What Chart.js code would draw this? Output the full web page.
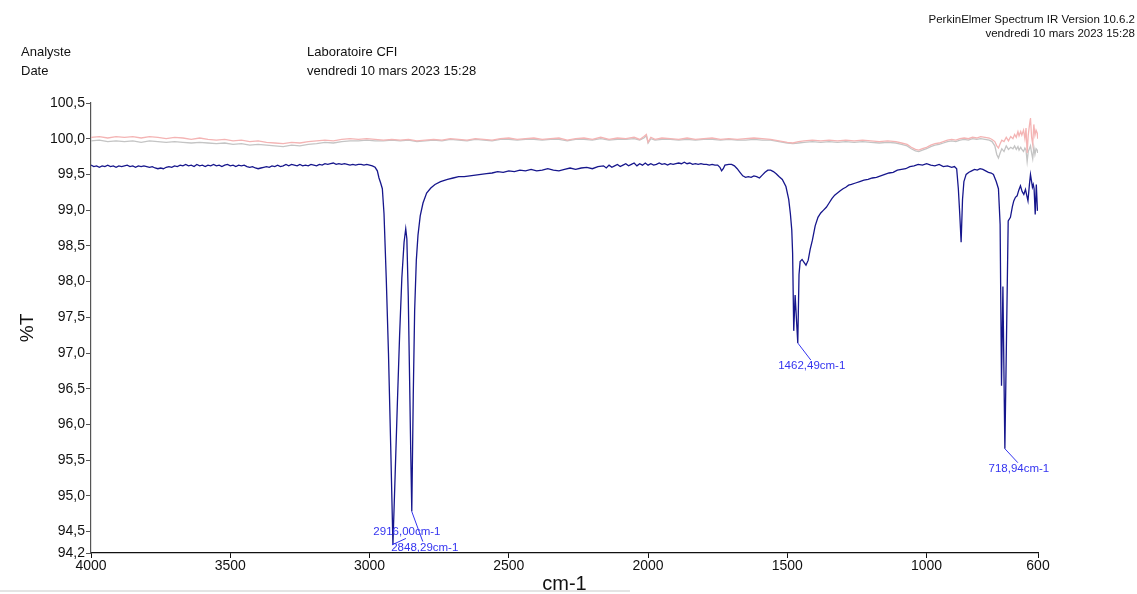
<!DOCTYPE html>
<html lang="fr">
<head>
<meta charset="utf-8">
<title>Spectre IR</title>
<script src="https://cdn.jsdelivr.net/npm/chart.js@4.4.1/dist/chart.umd.min.js"></script>
<style>
    body { margin: 0; background: #fff; font-family: Arial, "Liberation Sans", sans-serif; }
    #page { position: relative; width: 1137px; height: 594px; overflow: hidden; }
    #irChart { position: absolute; left: 0; top: 0; }
    .hdr { position: absolute; font-size: 13px; line-height: 1; color: #111; white-space: nowrap; }
    .soft { position: absolute; right: 2px; font-size: 11.5px; line-height: 1; color: #111; text-align: right; white-space: nowrap; }
    #footline { position: absolute; left: 0; top: 590px; width: 630px; height: 2px; background: #e4e4e4; }
</style>
</head>
<body>
<div id="page">
    <div id="footline"></div>
    <canvas id="irChart" width="1137" height="594"></canvas>
    <div class="soft" style="top:14px">PerkinElmer Spectrum IR Version 10.6.2</div>
    <div class="soft" style="top:28px">vendredi 10 mars 2023 15:28</div>
    <div class="hdr" style="left:21px; top:45px">Analyste</div>
    <div class="hdr" style="left:21px; top:64px">Date</div>
    <div class="hdr" style="left:307px; top:45px">Laboratoire CFI</div>
    <div class="hdr" style="left:307px; top:64px">vendredi 10 mars 2023 15:28</div>
</div>
<script>
// axis ticks (cm-1 and %T)
const xTicks = [4000, 3500, 3000, 2500, 2000, 1500, 1000, 600];
const yTicks = [94.2, 94.5, 95.0, 95.5, 96.0, 96.5, 97.0, 97.5, 98.0, 98.5, 99.0, 99.5, 100.0, 100.5];

// peaks picked on the sample spectrum (cm-1)
const peakLabels = [2916.00, 2848.29, 1462.49, 718.94];

// sample spectrum [cm-1, %T]
const sampleSpectrum = [
    [4000, 99.63], [3990, 99.61], [3980, 99.62], [3970, 99.60], [3960, 99.62], [3950, 99.61], [3940, 99.63], [3930, 99.61],
    [3920, 99.62], [3910, 99.60], [3900, 99.62], [3890, 99.61], [3880, 99.62], [3870, 99.63], [3860, 99.61], [3850, 99.62],
    [3840, 99.60], [3830, 99.62], [3820, 99.61], [3810, 99.62], [3800, 99.61], [3790, 99.60], [3780, 99.61], [3770, 99.59],
    [3760, 99.58], [3750, 99.59], [3740, 99.58], [3730, 99.60], [3720, 99.61], [3710, 99.60], [3700, 99.62], [3690, 99.61],
    [3680, 99.63], [3670, 99.62], [3660, 99.64], [3650, 99.62], [3640, 99.63], [3630, 99.61], [3620, 99.64], [3610, 99.62],
    [3600, 99.63], [3590, 99.61], [3580, 99.63], [3570, 99.62], [3560, 99.64], [3550, 99.62], [3540, 99.63], [3530, 99.61],
    [3520, 99.63], [3510, 99.64], [3500, 99.62], [3490, 99.63], [3480, 99.61], [3470, 99.63], [3460, 99.62], [3450, 99.63],
    [3440, 99.61], [3430, 99.60], [3420, 99.61], [3410, 99.59], [3400, 99.58], [3390, 99.59], [3380, 99.60], [3370, 99.61],
    [3360, 99.60], [3350, 99.62], [3340, 99.61], [3330, 99.63], [3320, 99.61], [3310, 99.62], [3300, 99.64], [3290, 99.62],
    [3280, 99.64], [3270, 99.63], [3260, 99.62], [3250, 99.64], [3240, 99.62], [3230, 99.63], [3220, 99.62], [3210, 99.64],
    [3200, 99.63], [3190, 99.62], [3180, 99.64], [3170, 99.63], [3160, 99.65], [3150, 99.64], [3140, 99.65], [3130, 99.66],
    [3120, 99.64], [3110, 99.65], [3100, 99.64], [3090, 99.65], [3080, 99.64], [3070, 99.63], [3060, 99.64], [3050, 99.63],
    [3040, 99.64], [3030, 99.64], [3020, 99.63], [3010, 99.64], [3000, 99.63], [2990, 99.62], [2980, 99.60], [2972, 99.55],
    [2966, 99.45], [2960, 99.38], [2954, 99.30], [2948, 98.95], [2940, 98.05], [2932, 97.00], [2924, 95.70], [2916.00, 94.32],
    [2908, 95.30], [2900, 96.30], [2892, 97.25], [2884, 98.05], [2876, 98.55], [2870, 98.74], [2866, 98.60], [2861, 97.80],
    [2856, 96.60], [2852, 95.60], [2848.29, 94.78], [2843, 96.40], [2838, 97.60], [2832, 98.30], [2826, 98.65], [2818, 98.92],
    [2808, 99.10], [2795, 99.24], [2780, 99.31], [2765, 99.36], [2745, 99.40], [2720, 99.43], [2700, 99.45], [2680, 99.47],
    [2660, 99.47], [2640, 99.48], [2620, 99.49], [2600, 99.50], [2580, 99.51], [2560, 99.52], [2540, 99.54], [2520, 99.53],
    [2500, 99.55], [2480, 99.54], [2460, 99.56], [2440, 99.55], [2420, 99.57], [2400, 99.55], [2380, 99.56], [2360, 99.58],
    [2340, 99.56], [2320, 99.55], [2300, 99.57], [2280, 99.59], [2260, 99.57], [2240, 99.59], [2220, 99.60], [2200, 99.58],
    [2180, 99.61], [2160, 99.62], [2150, 99.59], [2140, 99.63], [2130, 99.60], [2120, 99.62], [2110, 99.64], [2100, 99.61],
    [2090, 99.63], [2080, 99.65], [2070, 99.62], [2060, 99.64], [2050, 99.66], [2040, 99.62], [2030, 99.65], [2020, 99.63],
    [2010, 99.66], [2000, 99.63], [1990, 99.65], [1980, 99.63], [1970, 99.64], [1960, 99.66], [1950, 99.64], [1940, 99.65],
    [1930, 99.63], [1920, 99.65], [1910, 99.64], [1900, 99.65], [1890, 99.66], [1880, 99.65], [1870, 99.67], [1860, 99.65],
    [1850, 99.66], [1840, 99.64], [1830, 99.65], [1820, 99.64], [1810, 99.65], [1800, 99.64], [1790, 99.64], [1780, 99.63],
    [1770, 99.64], [1760, 99.63], [1750, 99.63], [1742, 99.60], [1736, 99.55], [1730, 99.58], [1724, 99.63], [1710, 99.64],
    [1700, 99.64], [1690, 99.62], [1680, 99.58], [1670, 99.53], [1660, 99.48], [1650, 99.46], [1640, 99.47], [1630, 99.46],
    [1620, 99.48], [1610, 99.47], [1600, 99.45], [1590, 99.49], [1580, 99.53], [1570, 99.56], [1560, 99.56], [1550, 99.54],
    [1540, 99.51], [1530, 99.47], [1518, 99.43], [1505, 99.33], [1495, 99.15], [1489, 98.95], [1484, 98.72], [1481, 98.40],
    [1477, 97.31], [1472, 97.81], [1462.49, 97.14], [1458, 98.10], [1454, 98.28], [1447, 98.31], [1440, 98.27], [1433, 98.23],
    [1425, 98.30], [1418, 98.45], [1410, 98.58], [1400, 98.78], [1390, 98.90], [1380, 98.96], [1370, 99.00], [1360, 99.04],
    [1350, 99.10], [1340, 99.16], [1330, 99.21], [1320, 99.24], [1310, 99.27], [1300, 99.30], [1290, 99.32], [1280, 99.35],
    [1270, 99.36], [1255, 99.38], [1240, 99.40], [1225, 99.42], [1210, 99.43], [1195, 99.45], [1180, 99.46], [1165, 99.48],
    [1150, 99.50], [1135, 99.52], [1120, 99.53], [1105, 99.56], [1090, 99.57], [1075, 99.58], [1060, 99.61], [1045, 99.62],
    [1030, 99.64], [1015, 99.63], [1000, 99.65], [985, 99.63], [970, 99.62], [955, 99.64], [940, 99.61], [925, 99.62],
    [910, 99.60], [900, 99.61], [892, 99.58], [886, 99.30], [881, 98.95], [876, 98.55], [871, 99.15], [866, 99.40],
    [858, 99.50], [848, 99.53], [838, 99.55], [828, 99.57], [818, 99.56], [808, 99.58], [798, 99.57], [788, 99.55],
    [778, 99.53], [768, 99.52], [760, 99.50], [750, 99.40], [742, 99.30], [736, 98.80], [731, 96.54], [726, 97.93],
    [718.94, 95.66], [713, 97.24], [707, 98.85], [699, 98.90], [692, 99.05], [687, 99.13], [681, 99.18], [675, 99.20],
    [669, 99.28], [663, 99.34], [657, 99.26], [651, 99.22], [645, 99.29], [640, 99.20], [636, 99.13], [631, 99.35],
    [627, 99.50], [623, 99.40], [620, 99.32], [617, 99.36], [614, 99.30], [610, 98.94], [606, 99.36], [602, 98.99]
];

// reference scan [cm-1, %T]
const referenceSpectrum = [
    [4000, 100.02], [3970, 100.03], [3940, 100.01], [3910, 100.03], [3880, 100.02], [3850, 100.03], [3820, 100.01], [3790, 100.03],
    [3760, 100.02], [3730, 100.00], [3700, 100.02], [3670, 100.01], [3640, 99.99], [3610, 100.01], [3580, 99.99], [3550, 99.98],
    [3520, 99.99], [3490, 99.97], [3460, 99.98], [3430, 99.96], [3400, 99.97], [3370, 99.95], [3340, 99.94], [3310, 99.93],
    [3280, 99.95], [3250, 99.94], [3220, 99.96], [3190, 99.97], [3160, 99.98], [3130, 99.97], [3100, 99.99], [3070, 100.00],
    [3040, 99.99], [3010, 100.00], [2980, 99.99], [2950, 99.98], [2920, 99.99], [2890, 99.98], [2860, 99.99], [2830, 99.97],
    [2800, 99.98], [2770, 99.99], [2740, 99.98], [2710, 100.00], [2680, 99.99], [2650, 99.98], [2620, 100.00], [2590, 99.99],
    [2560, 99.98], [2530, 100.00], [2500, 100.01], [2470, 99.99], [2440, 100.00], [2410, 100.01], [2380, 99.99], [2350, 100.00],
    [2320, 100.01], [2290, 99.98], [2260, 100.00], [2230, 100.01], [2200, 99.99], [2170, 100.02], [2140, 99.99], [2110, 100.01],
    [2080, 100.00], [2050, 100.02], [2030, 99.99], [2015, 100.03], [2006, 100.06], [2000, 99.95], [1990, 100.02], [1975, 99.99],
    [1950, 100.01], [1920, 100.00], [1890, 99.99], [1860, 100.01], [1830, 99.99], [1800, 100.00], [1770, 100.01], [1740, 99.99],
    [1710, 100.00], [1680, 99.99], [1650, 100.00], [1620, 100.01], [1590, 100.00], [1560, 99.99], [1530, 99.97], [1500, 99.95],
    [1480, 99.94], [1460, 99.96], [1440, 99.97], [1410, 99.98], [1380, 99.97], [1350, 99.98], [1320, 99.97], [1290, 99.98],
    [1260, 99.97], [1230, 99.98], [1200, 99.97], [1170, 99.96], [1140, 99.97], [1110, 99.96], [1090, 99.94], [1070, 99.92],
    [1055, 99.88], [1040, 99.85], [1028, 99.84], [1015, 99.86], [1000, 99.88], [985, 99.91], [970, 99.93], [955, 99.94],
    [940, 99.96], [925, 99.98], [910, 99.99], [895, 99.98], [880, 100.00], [865, 100.01], [850, 100.00], [835, 100.02],
    [820, 100.01], [806, 100.03], [790, 100.02], [775, 100.01], [765, 99.99], [755, 99.96], [748, 99.90], [742, 99.87],
    [736, 99.93], [730, 99.98], [722, 99.96], [714, 100.02], [706, 99.97], [698, 100.03], [690, 100.00], [684, 100.06],
    [678, 100.02], [672, 100.10], [668, 100.04], [662, 100.10], [658, 100.05], [652, 100.12], [647, 100.00], [643, 100.15],
    [639, 99.80], [635, 100.05], [631, 100.18], [627, 100.29], [623, 100.02], [619, 99.92], [615, 100.20], [611, 100.05],
    [607, 100.12], [603, 100.08], [601, 100.00]
];

// blank scan [cm-1, %T]
const blankSpectrum = [
    [4000, 99.97], [3970, 99.98], [3940, 99.96], [3910, 99.97], [3880, 99.96], [3850, 99.97], [3820, 99.95], [3790, 99.97],
    [3760, 99.96], [3730, 99.95], [3700, 99.96], [3670, 99.95], [3640, 99.94], [3610, 99.95], [3580, 99.94], [3550, 99.93],
    [3520, 99.94], [3490, 99.92], [3460, 99.93], [3430, 99.91], [3400, 99.92], [3370, 99.91], [3340, 99.90], [3310, 99.89],
    [3280, 99.91], [3250, 99.90], [3220, 99.92], [3190, 99.93], [3160, 99.95], [3130, 99.94], [3100, 99.96], [3070, 99.97],
    [3040, 99.97], [3010, 99.98], [2980, 99.97], [2950, 99.97], [2920, 99.98], [2890, 99.97], [2860, 99.98], [2830, 99.96],
    [2800, 99.97], [2770, 99.98], [2740, 99.97], [2710, 99.99], [2680, 99.98], [2650, 99.97], [2620, 99.99], [2590, 99.98],
    [2560, 99.97], [2530, 99.99], [2500, 99.99], [2470, 99.98], [2440, 99.99], [2410, 99.99], [2380, 99.98], [2350, 99.99],
    [2320, 99.99], [2290, 99.97], [2260, 99.99], [2230, 99.99], [2200, 99.98], [2170, 100.00], [2140, 99.98], [2110, 99.99],
    [2080, 99.99], [2050, 100.00], [2030, 99.98], [2015, 100.01], [2006, 100.04], [2000, 99.94], [1990, 100.00], [1975, 99.98],
    [1950, 99.99], [1920, 99.99], [1890, 99.98], [1860, 99.99], [1830, 99.98], [1800, 99.99], [1770, 99.99], [1740, 99.98],
    [1710, 99.99], [1680, 99.98], [1650, 99.98], [1620, 99.99], [1590, 99.98], [1560, 99.98], [1530, 99.96], [1500, 99.94],
    [1480, 99.93], [1460, 99.94], [1440, 99.95], [1410, 99.96], [1380, 99.95], [1350, 99.96], [1320, 99.95], [1290, 99.96],
    [1260, 99.95], [1230, 99.96], [1200, 99.95], [1170, 99.94], [1140, 99.95], [1110, 99.94], [1090, 99.92], [1070, 99.90],
    [1055, 99.86], [1040, 99.83], [1028, 99.82], [1015, 99.84], [1000, 99.86], [985, 99.89], [970, 99.91], [955, 99.92],
    [940, 99.94], [925, 99.96], [910, 99.97], [895, 99.96], [880, 99.98], [865, 99.99], [850, 99.98], [835, 100.00],
    [820, 99.99], [806, 100.00], [790, 99.99], [775, 99.98], [765, 99.96], [755, 99.90], [748, 99.78], [742, 99.73],
    [736, 99.80], [730, 99.86], [722, 99.82], [714, 99.90], [706, 99.85], [698, 99.88], [690, 99.86], [684, 99.90],
    [678, 99.85], [672, 99.89], [668, 99.84], [662, 99.88], [658, 99.85], [652, 99.82], [647, 99.87], [643, 99.84],
    [639, 99.68], [635, 99.82], [631, 99.86], [627, 99.90], [623, 99.80], [619, 99.72], [615, 99.88], [611, 99.78],
    [607, 99.86], [603, 99.84], [601, 99.80]
];

const toPoints = (rows) => rows.map(r => ({ x: r[0], y: r[1] }));
const comma = (v, d) => v.toFixed(d).replace('.', ',');

// peak annotations: leader line from the peak tip, then the wavenumber text
const peakLabelPlugin = {
    id: 'peakLabels',
    afterDatasetsDraw(chart, args, opts) {
        const { ctx, scales: { x, y } } = chart;
        ctx.save();
        ctx.strokeStyle = opts.color;
        ctx.fillStyle = opts.color;
        ctx.lineWidth = 1;
        ctx.font = opts.font;
        ctx.textAlign = 'center';
        ctx.textBaseline = 'middle';
        peakLabels.forEach((wn, i) => {
            const row = sampleSpectrum.find(r => r[0] === wn);
            const px = x.getPixelForValue(wn);
            const py = y.getPixelForValue(row[1]);
            const o = opts.offsets[i];
            ctx.beginPath();
            ctx.moveTo(px, py);
            ctx.lineTo(px + o.lx, py + o.ly);
            ctx.stroke();
            ctx.fillText(comma(wn, 2) + 'cm-1', px + o.tx, py + o.ty);
        });
        ctx.restore();
    }
};

document.addEventListener('DOMContentLoaded', function () {
    const ctx = document.getElementById('irChart').getContext('2d');
    new Chart(ctx, {
        type: 'line',
        data: {
            datasets: [{
                label: 'Échantillon',
                data: toPoints(sampleSpectrum),
                borderColor: '#16168c',
                borderWidth: 1.3
            }, {
                label: 'Référence',
                data: toPoints(referenceSpectrum),
                borderColor: '#f4b4b4',
                borderWidth: 1.3
            }, {
                label: 'Blanc',
                data: toPoints(blankSpectrum),
                borderColor: '#c4c4c4',
                borderWidth: 1.3
            }]
        },
        options: {
            responsive: false,
            animation: false,
            elements: { point: { radius: 0 }, line: { tension: 0 } },
            layout: { padding: { left: 0, top: 103, right: 99, bottom: 0 } },
            plugins: {
                legend: { display: false },
                tooltip: { enabled: false },
                peakLabels: {
                    color: '#3434f0',
                    font: '11.5px Arial, "Liberation Sans", sans-serif',
                    offsets: [
                        { lx: 13, ly: -6, tx: 14, ty: -13 },
                        { lx: 11, ly: 30, tx: 13, ty: 36 },
                        { lx: 13, ly: 17, tx: 14, ty: 23 },
                        { lx: 13, ly: 14, tx: 14, ty: 20 }
                    ]
                }
            },
            scales: {
                x: {
                    type: 'linear',
                    reverse: true,
                    min: 600,
                    max: 4000,
                    afterBuildTicks: (scale) => { scale.ticks = xTicks.map(v => ({ value: v })); },
                    afterFit: (scale) => { scale.height = 41; },
                    grid: { drawOnChartArea: false, drawTicks: true, tickLength: 5, color: '#111' },
                    border: { display: true, color: '#111', width: 1.2 },
                    ticks: {
                        autoSkip: false,
                        maxRotation: 0,
                        padding: 0,
                        color: '#111',
                        font: { family: 'Arial, "Liberation Sans", sans-serif', size: 14 },
                        callback: (v) => String(v)
                    },
                    title: {
                        display: true,
                        text: 'cm-1',
                        color: '#111',
                        padding: 0,
                        font: { family: 'Arial, "Liberation Sans", sans-serif', size: 20, lineHeight: 1 }
                    }
                },
                y: {
                    min: 94.2,
                    max: 100.5,
                    afterBuildTicks: (scale) => { scale.ticks = yTicks.map(v => ({ value: v })); },
                    afterFit: (scale) => { scale.width = 91; },
                    grid: { drawOnChartArea: false, drawTicks: true, tickLength: 5, color: '#555' },
                    border: { display: true, color: '#555', width: 1.2 },
                    ticks: {
                        autoSkip: false,
                        padding: 1,
                        color: '#111',
                        font: { family: 'Arial, "Liberation Sans", sans-serif', size: 14 },
                        callback: (v) => comma(v, 1)
                    },
                    title: {
                        display: true,
                        text: '%T',
                        color: '#111',
                        padding: { top: 18, bottom: 0 },
                        font: { family: 'Arial, "Liberation Sans", sans-serif', size: 19, lineHeight: 1 }
                    }
                }
            }
        },
        plugins: [peakLabelPlugin]
    });
});
</script>
</body>
</html>
